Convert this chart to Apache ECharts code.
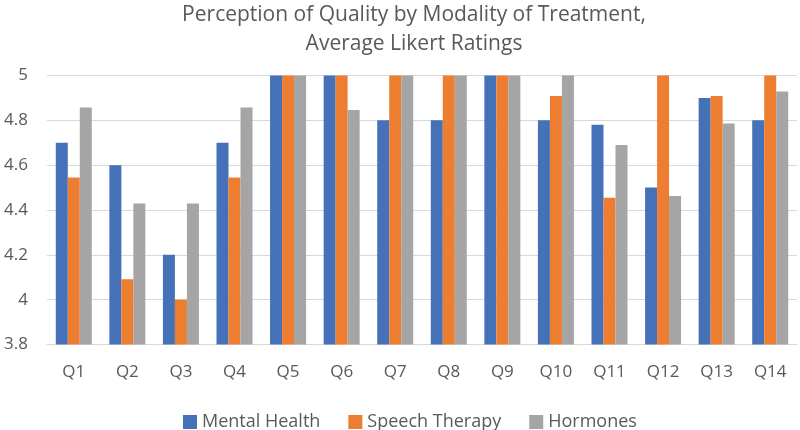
<!DOCTYPE html>
<html><head><meta charset="utf-8">
<script src="https://cdn.jsdelivr.net/npm/echarts@6/dist/echarts.min.js"></script>
<style>html,body{margin:0;padding:0;background:#fff}#c{width:800px;height:430px}</style>
</head><body><div id="c"></div>
<script>
const categories = ['Q1','Q2','Q3','Q4','Q5','Q6','Q7','Q8','Q9','Q10','Q11','Q12','Q13','Q14'];
const mentalHealth = [4.7, 4.6, 4.2, 4.7, 5, 5, 4.8, 4.8, 5, 4.8, 4.78, 4.5, 4.9, 4.8];
const speechTherapy = [4.545, 4.091, 4.0, 4.545, 5, 5, 5, 5, 5, 4.909, 4.455, 5, 4.909, 5];
const hormones = [4.857, 4.429, 4.429, 4.857, 5, 4.846, 5, 5, 5, 5, 4.69, 4.462, 4.786, 4.929];
const seriesNames = ['Mental Health', 'Speech Therapy', 'Hormones'];
const colors = ['#4571B8', '#ED7D31', '#A5A5A5'];
const FONT = '"Open Sans", sans-serif';
const chart = echarts.init(document.getElementById('c'), null, {renderer: 'canvas'});
const mk = (name, data, i) => ({
  name, type: 'bar', data, barWidth: 12, barGap: '0%',
  itemStyle: {color: colors[i]}
});
chart.setOption({
  animation: false,
  textStyle: {fontFamily: FONT},
  title: {
    text: 'Perception of Quality by Modality of Treatment,\nAverage Likert Ratings',
    left: 409, top: -4, textAlign: 'center',
    textStyle: {fontFamily: FONT, fontSize: 21, fontWeight: 'normal', color: '#595959', lineHeight: 29}
  },
  legend: {
    data: seriesNames, top: 408, left: 178,
    itemWidth: 14, itemHeight: 14, itemGap: 28, icon: 'rect',
    textStyle: {fontFamily: FONT, fontSize: 18, color: '#595959'}
  },
  grid: {left: 47, right: 3, top: 75.5, bottom: 85.5, containLabel: false},
  xAxis: {
    type: 'category', data: categories,
    axisLine: {lineStyle: {color: '#D9D9D9', width: 1}},
    axisTick: {show: false},
    axisLabel: {fontFamily: FONT, fontSize: 17, color: '#595959', margin: 19}
  },
  yAxis: {
    type: 'value', min: 3.8, max: 5, interval: 0.2,
    axisLine: {show: false}, axisTick: {show: false},
    splitLine: {lineStyle: {color: '#D9D9D9', width: 1}},
    axisLabel: {fontFamily: FONT, fontSize: 17, color: '#595959', margin: 19,
      formatter: v => String(Number(v.toFixed(1)))}
  },
  series: [mk(seriesNames[0], mentalHealth, 0), mk(seriesNames[1], speechTherapy, 1), mk(seriesNames[2], hormones, 2)]
});
</script></body></html>
